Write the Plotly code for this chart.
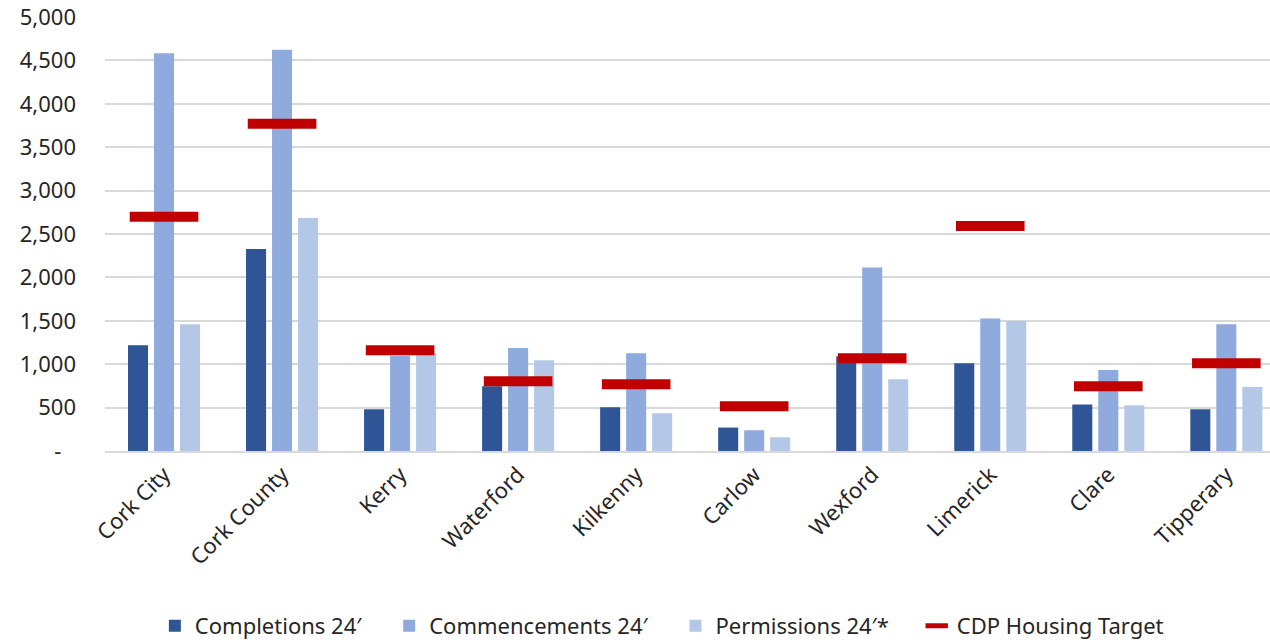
import plotly.graph_objects as go

categories = ["Cork City", "Cork County", "Kerry", "Waterford", "Kilkenny",
              "Carlow", "Wexford", "Limerick", "Clare", "Tipperary"]
completions = [1219, 2326, 481, 746, 504, 270, 1092, 1011, 535, 481]
commencements = [4582, 4624, 1096, 1188, 1127, 239, 2114, 1526, 934, 1461]
permissions = [1461, 2683, 1127, 1046, 435, 158, 827, 1499, 527, 738]
targets = [2698, 3770, 1161, 804, 769, 515, 1069, 2591, 746, 1011]

y_tickvals = [0, 500, 1000, 1500, 2000, 2500, 3000, 3500, 4000, 4500, 5000]
y_ticktext = ["-\u2002\u2009", "500", "1,000", "1,500", "2,000", "2,500", "3,000",
              "3,500", "4,000", "4,500", "5,000"]

FONT = "Noto Sans"
TEXT = "#262626"
FS = 22
PAD = "\u00a0\u00a0\u00a0\u00a0"

fig = go.Figure()
fig.add_trace(go.Bar(x=categories, y=completions, name="Completions 24′" + PAD,
                     marker=dict(color="#2F5597", line=dict(width=0))))
fig.add_trace(go.Bar(x=categories, y=commencements, name="Commencements 24′" + PAD,
                     marker=dict(color="#8FAADC", line=dict(width=0))))
fig.add_trace(go.Bar(x=categories, y=permissions, name="Permissions 24′*" + PAD,
                     marker=dict(color="#B4C7E7", line=dict(width=0))))
fig.add_trace(go.Scatter(x=categories, y=targets, name="CDP Housing Target",
                         mode="markers",
                         marker=dict(symbol="line-ew", size=49, color="#C00000",
                                     line=dict(color="#C00000", width=10))))

fig.update_layout(
    width=1270, height=642,
    margin=dict(l=105, r=0, t=17, b=191, autoexpand=False),
    plot_bgcolor="white", paper_bgcolor="white",
    barmode="group", bargap=0.339, bargroupgap=0.23,
    font=dict(family=FONT, size=FS, color=TEXT),
    showlegend=True,
    legend=dict(orientation="h", x=0.478, xanchor="center",
                yref="container", y=0.025, yanchor="middle",
                font=dict(family=FONT, size=FS, color=TEXT), itemwidth=30,
                traceorder="normal"),
)
fig.update_xaxes(range=[-0.5, 9.37], tickangle=-45, showgrid=False, showline=True,
                 linecolor="#d9d9d9", linewidth=2, ticks="", automargin=False,
                 tickfont=dict(size=FS, family=FONT, color=TEXT))
fig.update_yaxes(range=[0, 5000], tickvals=y_tickvals, ticktext=y_ticktext,
                 showgrid=True, gridcolor="#d9d9d9", gridwidth=1.5, zeroline=False,
                 showline=False, ticks="", ticklabelstandoff=28, automargin=False,
                 tickfont=dict(size=FS, family=FONT, color=TEXT))

fig.write_html("out.html")
